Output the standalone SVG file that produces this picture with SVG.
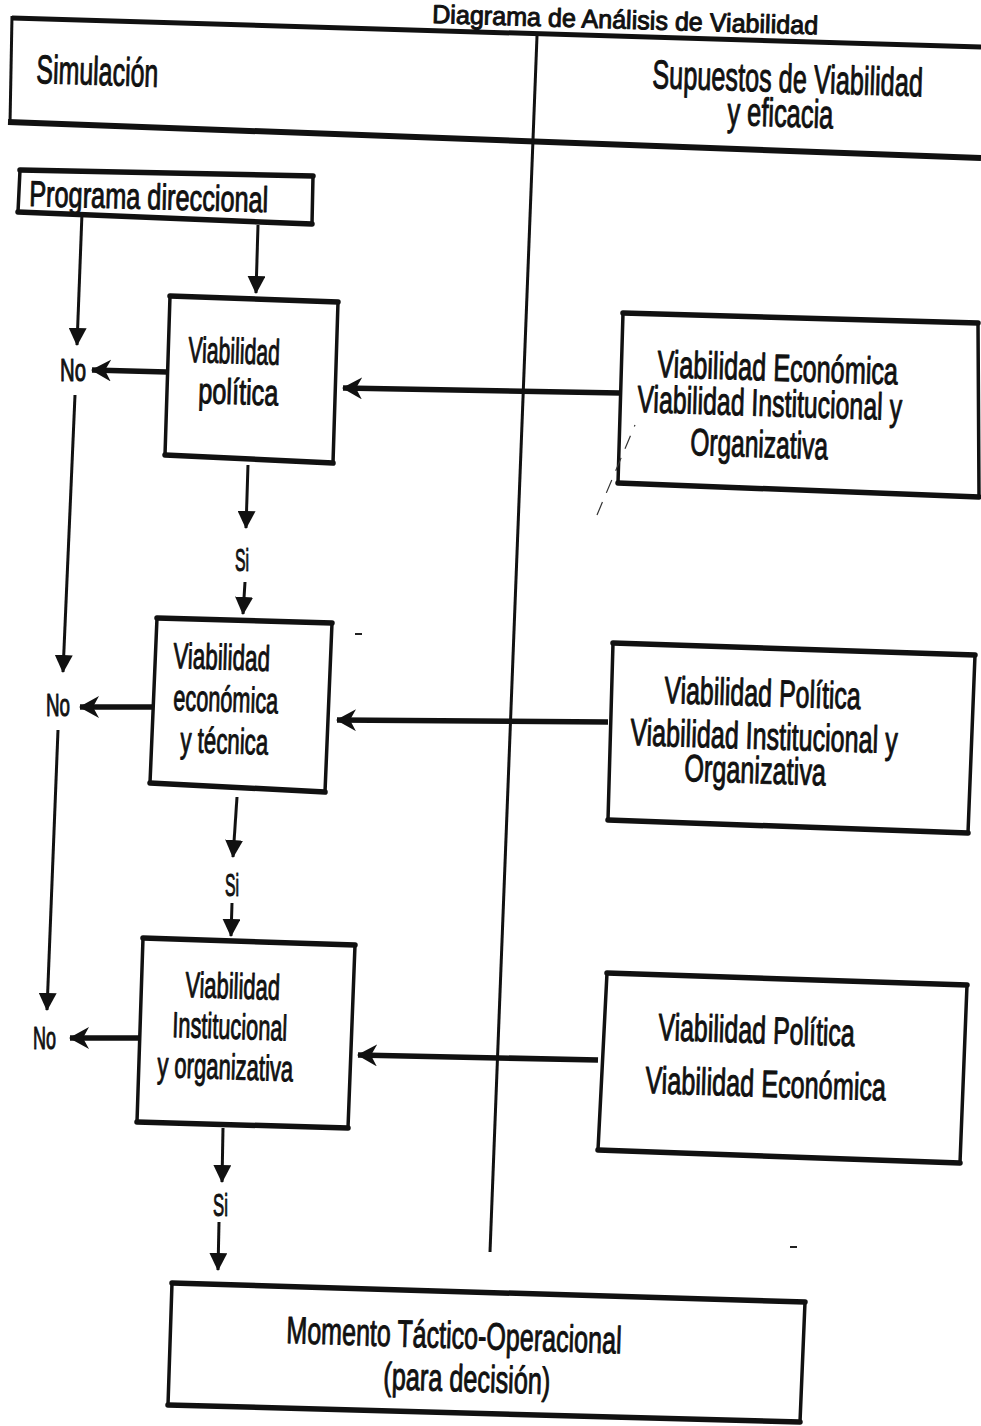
<svg xmlns="http://www.w3.org/2000/svg" width="981" height="1426" viewBox="0 0 981 1426">
<style>
.t{font-family:"Liberation Sans",Arial,sans-serif;fill:#111;stroke:#111;stroke-width:1;stroke-linejoin:round}
.hd{font-size:40px}
.bx{font-size:36px}
.rb{font-size:38px}
.sm{font-size:31px}
.frame{fill:none;stroke:#111;stroke-linejoin:round}
.box{fill:#fff;stroke:#111;stroke-width:3.5;stroke-linejoin:round}
.edge{fill:none;stroke:#111;stroke-width:5.5;stroke-linecap:round}
.thin{fill:none;stroke:#111;stroke-width:3}
.thick{fill:none;stroke:#111;stroke-width:5.5}
</style>
<defs>
<marker id="tri" viewBox="0 0 18 18" refX="17" refY="9" markerWidth="18" markerHeight="18" markerUnits="userSpaceOnUse" orient="auto">
<path d="M0,0 L18,9 L0,18 z" fill="#111"/>
</marker>
<marker id="barb" viewBox="0 0 20 22" refX="19" refY="11" markerWidth="20" markerHeight="22" markerUnits="userSpaceOnUse" orient="auto">
<path d="M0,0 L20,11 L0,22 L6,11 z" fill="#111"/>
</marker>
</defs>
<rect width="981" height="1426" fill="#fff"/>

<g id="header">
<text class="t" font-size="26" transform="translate(432 23) rotate(1.7) scale(0.966 1)">Diagrama de Análisis de Viabilidad</text>
<path class="frame" d="M12,18 L981,47" stroke-width="5"/>
<path class="frame" d="M12,16 L10,124" stroke-width="3"/>
<path class="frame" d="M8,122 L981,158" stroke-width="6"/>
<path class="frame" d="M537,36 L490,1252" stroke-width="3"/>
<text class="t hd" transform="translate(36 83) rotate(1.8) scale(0.624 1)">Simulación</text>
<text class="t hd" transform="translate(652 88) rotate(1.8) scale(0.632 1)">Supuestos de Viabilidad</text>
<text class="t hd" transform="translate(727 125) rotate(1.8) scale(0.636 1)">y eficacia</text>
</g>

<g id="programa">
<polygon class="box" points="20,170 313,176 312,224 18,212"/>
<path class="edge" d="M20,170 L313,176 M18,212 L312,224"/>
<text class="t bx" transform="translate(29 206) rotate(1.5) scale(0.703 1)">Programa direccional</text>
</g>

<g id="v-politica">
<polygon class="box" points="170,296 338,302 333,463 165,455"/>
<path class="edge" d="M170,296 L338,302 M165,455 L333,463"/>
<text class="t bx" transform="translate(188 362) rotate(1.8) scale(0.59 1)">Viabilidad</text>
<text class="t bx" transform="translate(198 403) rotate(1.8) scale(0.702 1)">política</text>
</g>

<g id="v-economica">
<polygon class="box" points="157,618 332,623 325,792 150,783"/>
<path class="edge" d="M157,618 L332,623 M150,783 L325,792"/>
<text class="t bx" transform="translate(173 668) rotate(1.8) scale(0.622 1)">Viabilidad</text>
<text class="t bx" transform="translate(173 710) rotate(1.8) scale(0.603 1)">económica</text>
<text class="t bx" transform="translate(180 752) rotate(1.8) scale(0.619 1)">y técnica</text>
</g>

<g id="v-institucional">
<polygon class="box" points="143,938 355,945 348,1128 137,1122"/>
<path class="edge" d="M143,938 L355,945 M137,1122 L348,1128"/>
<text class="t bx" transform="translate(185 997) rotate(1.8) scale(0.609 1)">Viabilidad</text>
<text class="t bx" transform="translate(172 1037) rotate(1.8) scale(0.605 1)">Institucional</text>
<text class="t bx" transform="translate(157 1077) rotate(1.8) scale(0.612 1)">y organizativa</text>
</g>

<g id="supuestos-1">
<polygon class="box" points="623,313 978,323 979,497 618,483"/>
<path class="edge" d="M623,313 L978,323 M618,483 L979,497"/>
<text class="t rb" transform="translate(657 377) rotate(1.8) scale(0.664 1)">Viabilidad Económica</text>
<text class="t rb" transform="translate(637 412) rotate(1.8) scale(0.654 1)">Viabilidad Institucional y</text>
<text class="t rb" transform="translate(690 455) rotate(1.8) scale(0.645 1)">Organizativa</text>
</g>

<g id="supuestos-2">
<polygon class="box" points="613,643 975,655 968,833 608,820"/>
<path class="edge" d="M613,643 L975,655 M608,820 L968,833"/>
<text class="t rb" transform="translate(664 703) rotate(1.8) scale(0.657 1)">Viabilidad Política</text>
<text class="t rb" transform="translate(630 745) rotate(1.8) scale(0.661 1)">Viabilidad Institucional y</text>
<text class="t rb" transform="translate(684 781) rotate(1.8) scale(0.664 1)">Organizativa</text>
</g>

<g id="supuestos-3">
<polygon class="box" points="607,973 967,985 960,1163 598,1150"/>
<path class="edge" d="M607,973 L967,985 M598,1150 L960,1163"/>
<text class="t rb" transform="translate(658 1040) rotate(1.8) scale(0.657 1)">Viabilidad Política</text>
<text class="t rb" transform="translate(645 1093) rotate(1.8) scale(0.664 1)">Viabilidad Económica</text>
</g>

<g id="momento">
<polygon class="box" points="172,1283 805,1302 800,1422 168,1405"/>
<path class="edge" d="M172,1283 L805,1302 M168,1405 L800,1422"/>
<text class="t rb" transform="translate(286 1343) rotate(1.8) scale(0.66 1)">Momento Táctico-Operacional</text>
<text class="t rb" transform="translate(383 1389) rotate(1.8) scale(0.665 1)">(para decisión)</text>
</g>

<g id="labels">
<text class="t sm" transform="translate(60 381) scale(0.656 1)">No</text>
<text class="t sm" transform="translate(46 716) scale(0.606 1)">No</text>
<text class="t sm" transform="translate(33 1049) scale(0.58 1)">No</text>
<text class="t sm" transform="translate(235 571) scale(0.51 1)">Si</text>
<text class="t sm" transform="translate(225 896) scale(0.51 1)">Si</text>
<text class="t sm" transform="translate(213 1216) scale(0.54 1)">Si</text>
</g>

<g id="connectors">
<path class="thin" d="M82,213 L77,345" marker-end="url(#tri)"/>
<path class="thin" d="M258,225 L256,293" marker-end="url(#tri)"/>
<path class="thick" d="M167,372 L92,370" marker-end="url(#barb)"/>
<path class="thick" d="M620,393 L343,388" marker-end="url(#barb)"/>
<path class="thin" d="M75,395 L63,672" marker-end="url(#tri)"/>
<path class="thin" d="M248,465 L246,528" marker-end="url(#tri)"/>
<path class="thin" d="M245,582 L243,614" marker-end="url(#tri)"/>
<path class="thick" d="M152,707 L80,707" marker-end="url(#barb)"/>
<path class="thick" d="M608,722 L337,720" marker-end="url(#barb)"/>
<path class="thin" d="M58,730 L47,1010" marker-end="url(#tri)"/>
<path class="thin" d="M237,797 L233,857" marker-end="url(#tri)"/>
<path class="thin" d="M232,903 L231,936" marker-end="url(#tri)"/>
<path class="thick" d="M140,1038 L70,1038" marker-end="url(#barb)"/>
<path class="thick" d="M598,1060 L358,1055" marker-end="url(#barb)"/>
<path class="thin" d="M223,1128 L222,1182" marker-end="url(#tri)"/>
<path class="thin" d="M219,1222 L218,1270" marker-end="url(#tri)"/>
</g>

<g id="marks">
<path d="M597,515 L635,425" fill="none" stroke="#333" stroke-width="1.2" stroke-dasharray="14 10"/>
<path d="M355,634 L362,634" stroke="#222" stroke-width="2"/>
<path d="M790,1247 L797,1247" stroke="#222" stroke-width="2"/>
</g>
</svg>
